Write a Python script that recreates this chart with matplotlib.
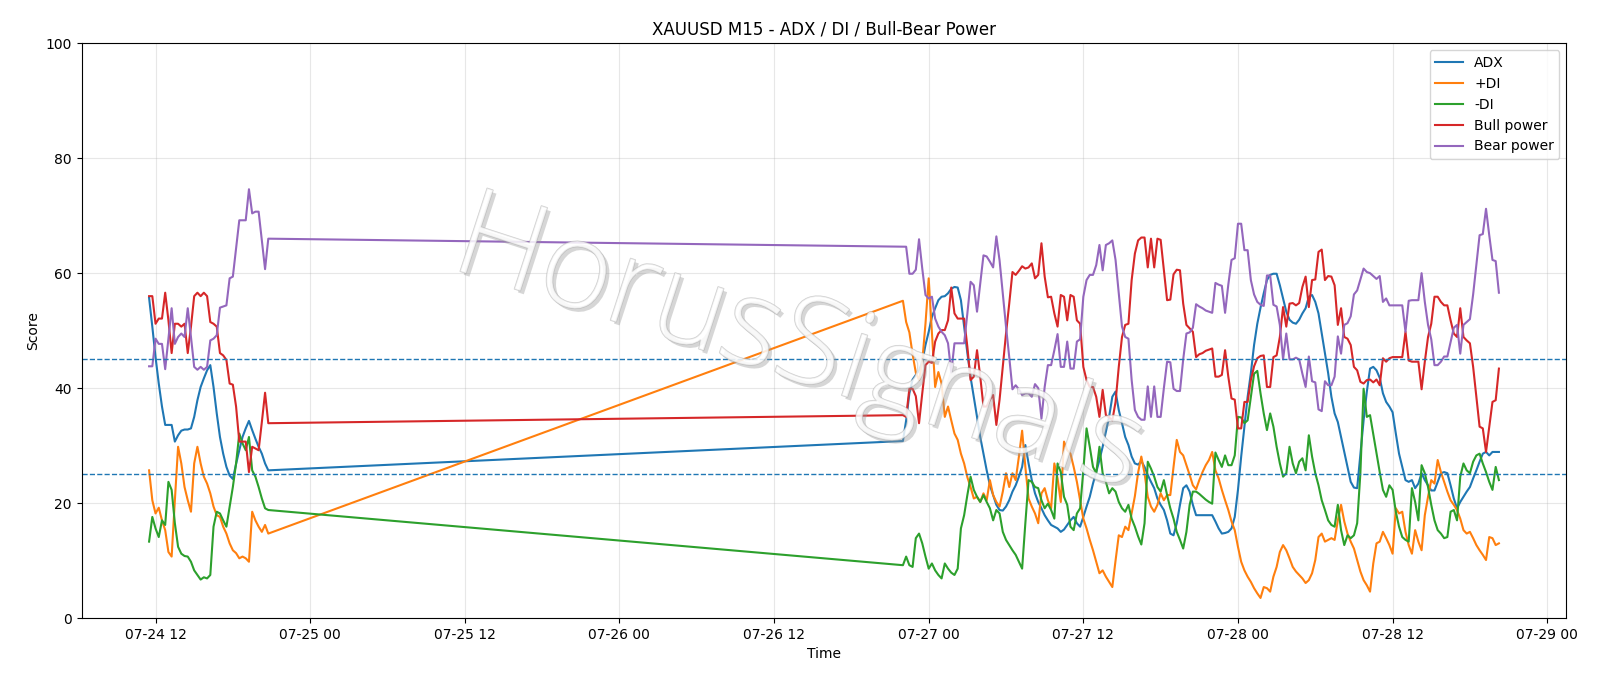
import numpy as np
import pandas as pd
import matplotlib
matplotlib.use("Agg")
import matplotlib.pyplot as plt
import matplotlib.dates as mdates
import matplotlib.patheffects as pe

# --- time index: M15 bars, weekend gap between the two blocks
t1 = pd.date_range("2025-07-24 11:30", periods=38, freq="15min")
t2 = pd.date_range("2025-07-26 22:00", periods=186, freq="15min")
times = t1.append(t2)

# --- values (block 1 = Thu, block 2 = Sun night -> Mon)
adx_1 = [55.7, 50.7, 45.4, 40.8, 36.8, 33.6, 33.6, 33.6, 30.7, 31.8, 32.6, 32.8, 32.8, 33.0, 35.0, 37.9,
         40.2, 41.7, 43.1, 44.0, 40.2, 35.6, 31.5, 28.6, 26.3, 24.8, 24.2, 26.8, 29.2, 31.5, 33.0, 34.3,
         32.7, 31.2, 29.8, 28.6, 26.9, 25.7]
adx_2 = [30.8, 34.4, 39.1, 41.5, 42.3, 43.1, 44.6, 47.5,
         49.8, 52.4, 53.9, 55.3, 55.9, 56.0, 56.5, 57.3, 57.6, 57.5,
         55.3, 50.7, 46.1, 41.9, 38.5, 35.0, 31.5, 28.6, 25.7, 23.1,
         21.4, 19.7, 18.8, 18.7, 19.4, 20.5, 22.0, 23.1, 24.6, 26.3,
         30.1, 26.9, 24.0, 21.7, 20.2, 19.1, 17.9, 17.0, 16.2, 15.9,
         15.6, 15.0, 15.4, 16.2, 17.0, 17.6, 16.5, 15.9, 17.6, 19.4,
         21.1, 23.4, 25.4, 27.5, 29.8, 32.4, 35.0, 38.5, 39.4, 36.2,
         33.9, 31.5, 30.1, 28.1, 26.9, 26.7, 27.3, 26.3, 24.9, 23.7,
         22.6, 20.8, 19.7, 18.8, 17.0, 14.7, 14.4, 16.5, 19.7, 22.6,
         23.1, 22.0, 19.7, 17.9, 17.9, 17.9, 17.9, 17.9, 17.9, 16.8,
         15.6, 14.7, 14.8, 15.0, 15.6, 17.6, 22.3, 28.1, 33.3, 38.5,
         42.6, 47.5, 51.2, 54.0, 56.5, 58.8, 59.7, 59.9, 59.9, 57.9,
         55.6, 53.3, 51.9, 51.4, 51.2, 51.9, 53.0, 53.9, 55.9, 56.2,
         55.0, 53.0, 49.5, 46.1, 42.6, 38.5, 35.6, 34.1, 31.5, 28.9,
         26.3, 23.7, 22.7, 22.6, 28.6, 34.4, 39.4, 43.4, 43.7, 43.1,
         41.8, 39.1, 37.6, 36.8, 35.8, 32.1, 28.6, 26.3, 24.0, 23.7,
         24.0, 22.6, 23.4, 25.2, 24.0, 23.1, 22.2, 22.2, 23.7, 25.2,
         25.4, 25.2, 23.1, 20.8, 19.1, 20.2, 21.1, 22.0, 22.8, 24.3,
         25.7, 27.2, 28.6, 28.9, 28.3, 28.9, 28.9, 28.9]

pdi_1 = [25.7, 20.5, 18.2, 19.2, 17.0, 15.3, 11.5, 10.7, 20.5, 29.8, 26.9, 22.8, 20.5, 18.5, 26.9, 29.8,
         26.9, 24.6, 23.4, 21.7, 19.4, 17.9, 17.6, 15.9, 14.7, 13.0, 11.8, 11.3, 10.4, 10.7, 10.4, 9.8,
         18.5, 17.0, 15.9, 15.0, 16.2, 14.7]
pdi_2 = [55.2, 51.5, 49.7, 45.9, 42.7, 41.4, 44.6, 51.2,
         59.1, 49.5, 40.2, 42.8, 40.8, 35.0, 36.8, 34.4, 32.1, 31.0,
         28.6, 26.9, 24.5, 22.8, 20.8, 21.1, 20.2, 21.7, 20.5, 24.0,
         21.4, 20.2, 19.4, 22.0, 25.2, 22.8, 25.2, 24.0, 28.1, 32.6,
         26.3, 20.8, 19.4, 18.2, 16.5, 21.7, 22.6, 20.5, 19.1, 26.9,
         24.3, 20.2, 30.7, 29.2, 28.6, 26.3, 23.7, 20.5, 17.3, 15.6,
         13.6, 11.8, 9.8, 7.8, 8.3, 7.2, 6.3, 5.4, 10.0, 14.4,
         14.1, 15.9, 15.3, 18.2, 21.2, 25.3, 28.1, 25.2, 21.1, 19.4,
         18.5, 19.7, 21.7, 20.5, 21.4, 21.4, 26.3, 31.0, 28.9, 28.3,
         26.6, 24.9, 23.1, 22.4, 24.0, 25.4, 26.6, 27.5, 28.9, 25.7,
         24.3, 22.3, 20.5, 18.8, 16.8, 15.3, 12.4, 9.8, 8.3, 7.2,
         6.3, 5.2, 4.3, 3.5, 5.4, 5.2, 4.6, 7.2, 8.9, 11.5,
         12.7, 11.8, 10.4, 8.9, 8.1, 7.5, 6.9, 6.1, 6.6, 7.8,
         10.1, 14.1, 14.7, 13.3, 13.6, 13.9, 13.6, 17.0, 19.7, 16.8,
         14.7, 13.3, 12.1, 10.1, 8.1, 6.6, 5.7, 4.6, 9.5, 13.0,
         13.3, 15.0, 13.9, 12.7, 11.2, 19.1, 18.2, 18.5, 15.0, 12.7,
         11.2, 15.3, 13.3, 11.8, 17.9, 21.1, 24.0, 23.4, 27.5, 25.4,
         23.7, 22.0, 20.5, 19.7, 18.8, 17.3, 15.3, 14.7, 15.0, 13.9,
         12.7, 11.8, 11.0, 10.1, 14.1, 13.9, 12.7, 13.0]

mdi_1 = [13.3, 17.6, 15.6, 14.1, 17.0, 16.2, 23.7, 22.3, 16.5, 12.4, 11.2, 10.8, 10.7, 9.8, 8.3, 7.5,
         6.7, 7.1, 6.9, 7.5, 15.9, 18.5, 18.2, 17.0, 15.9, 19.4, 22.8, 26.9, 32.1, 30.4, 29.2, 31.5,
         25.7, 24.6, 22.8, 20.8, 19.1, 18.8]
mdi_2 = [9.2, 10.7, 9.2, 8.9, 13.9, 14.7, 13.0, 10.7,
         8.6, 9.5, 8.3, 7.5, 6.9, 9.5, 8.6, 7.9, 7.5, 8.6,
         15.6, 17.9, 21.4, 24.6, 22.3, 21.1, 20.2, 21.4, 20.2, 19.1,
         17.0, 18.8, 18.2, 15.0, 13.6, 12.7, 11.8, 11.0, 9.8, 8.6,
         16.5, 24.0, 23.7, 22.8, 22.6, 20.5, 19.1, 19.9, 18.8, 17.3,
         26.9, 25.4, 21.1, 19.7, 15.9, 15.3, 18.2, 19.1, 25.7, 33.0,
         29.8, 26.3, 25.2, 29.8, 25.2, 23.7, 21.7, 22.6, 22.0, 20.2,
         19.1, 18.5, 19.7, 17.3, 15.9, 14.2, 12.8, 16.5, 27.2, 26.0,
         24.6, 22.8, 22.0, 24.0, 21.4, 19.1, 17.3, 15.0, 13.6, 12.1,
         15.0, 19.7, 22.0, 22.0, 21.6, 21.1, 20.6, 20.2, 19.9, 28.8,
         27.5, 26.3, 28.3, 26.6, 26.6, 28.3, 35.0, 34.9, 33.9, 34.4,
         38.5, 42.5, 43.0, 39.1, 35.6, 32.7, 35.6, 33.3, 29.8, 26.9,
         24.6, 25.2, 29.8, 26.9, 25.2, 27.2, 27.8, 25.7, 31.8, 28.1,
         25.2, 23.1, 20.5, 18.8, 17.0, 16.2, 15.9, 19.7, 15.3, 12.7,
         14.4, 13.9, 14.4, 16.5, 25.2, 39.9, 35.0, 35.3, 32.0, 28.6,
         25.4, 22.3, 21.1, 23.1, 22.3, 18.5, 15.9, 14.1, 13.6, 13.3,
         22.6, 20.2, 17.0, 26.6, 25.2, 22.8, 19.7, 17.0, 15.3, 14.7,
         13.9, 14.1, 18.5, 18.8, 17.0, 24.6, 26.9, 25.7, 25.2, 27.2,
         28.3, 28.6, 26.9, 25.4, 23.7, 22.3, 26.3, 24.0]

bull_1 = [56.0, 56.0, 51.2, 52.1, 52.1, 56.6, 51.8, 46.1, 51.2, 51.2, 50.7, 51.2, 46.1, 50.7, 56.0, 56.6,
          56.0, 56.6, 56.0, 51.5, 51.2, 50.7, 46.1, 45.7, 44.9, 40.8, 40.6, 36.8, 30.7, 30.7, 30.7, 25.4,
          29.8, 29.5, 29.2, 34.1, 39.2, 33.9]
bull_2 = [35.3, 35.0, 39.9, 39.9, 38.6, 33.9, 39.1, 44.0,
          44.6, 44.4, 48.1, 49.5, 50.1, 50.1, 51.8, 57.5, 53.0, 52.1,
          52.1, 52.1, 47.2, 41.4, 42.0, 46.6, 42.0, 36.8, 36.8, 38.0,
          38.8, 33.6, 38.0, 43.7, 49.5, 54.7, 60.2, 59.7, 60.4, 61.2,
          60.8, 61.0, 61.7, 59.1, 59.7, 65.2, 59.4, 55.8, 55.9, 53.0,
          50.7, 56.2, 55.9, 51.8, 56.2, 55.9, 51.8, 51.2, 43.7, 41.4,
          40.2, 40.2, 38.5, 35.0, 39.7, 35.3, 34.9, 34.4, 37.6, 43.7,
          48.9, 51.0, 51.2, 58.8, 63.4, 65.7, 66.2, 66.2, 61.0, 66.0,
          61.0, 66.0, 65.8, 60.5, 55.3, 55.4, 59.8, 60.6, 60.5, 54.7,
          51.0, 50.4, 49.8, 45.4, 45.9, 46.1, 46.5, 46.7, 46.9, 42.0,
          42.0, 42.3, 46.6, 42.0, 38.2, 38.0, 33.0, 33.0, 37.6, 37.6,
          41.4, 43.8, 45.2, 45.6, 45.7, 40.2, 40.2, 45.4, 45.7, 48.9,
          54.1, 50.7, 54.7, 54.8, 54.4, 54.8, 57.6, 59.4, 54.1, 58.8,
          58.9, 63.7, 64.1, 58.8, 59.5, 59.4, 57.9, 51.0, 53.9, 48.9,
          48.6, 47.5, 43.7, 43.1, 41.1, 40.8, 41.4, 41.5, 41.0, 41.5,
          40.5, 45.2, 44.6, 45.2, 45.4, 45.4, 45.4, 45.4, 49.8, 44.8,
          44.6, 44.6, 44.6, 39.8, 44.6, 48.9, 51.2, 55.9, 55.9, 55.0,
          54.4, 54.4, 51.8, 49.5, 48.9, 53.9, 48.9, 48.3, 47.8, 43.7,
          38.5, 33.3, 33.0, 28.9, 33.3, 37.6, 37.9, 43.4]

bear_1 = [43.8, 43.8, 48.6, 47.7, 47.7, 43.3, 48.6, 53.9, 47.7, 48.9, 49.5, 48.9, 53.9, 48.9, 43.7, 43.2,
          43.7, 43.2, 43.7, 48.3, 48.6, 49.2, 54.0, 54.2, 54.4, 59.1, 59.4, 64.3, 69.2, 69.2, 69.2, 74.6,
          70.4, 70.7, 70.7, 65.7, 60.7, 66.0]
bear_2 = [64.6, 64.6, 59.9, 59.9, 60.6, 65.9, 60.8, 56.2,
          55.6, 55.9, 52.1, 50.7, 49.8, 49.2, 47.8, 42.7, 47.8, 47.8,
          47.8, 47.8, 53.0, 58.5, 57.9, 53.3, 58.2, 63.1, 62.9, 62.0,
          61.0, 66.4, 62.2, 56.5, 50.7, 45.4, 39.8, 40.5, 39.8, 38.8,
          39.1, 39.1, 38.5, 40.7, 40.0, 34.7, 40.2, 44.0, 44.0, 46.6,
          49.4, 43.7, 43.7, 48.1, 43.4, 43.4, 48.1, 48.5, 55.9, 58.8,
          59.7, 59.7, 61.4, 64.9, 60.5, 64.9, 65.2, 65.7, 62.3, 56.5,
          50.7, 48.9, 48.6, 41.4, 36.2, 35.0, 34.5, 34.5, 40.3, 35.0,
          40.3, 35.0, 35.0, 40.0, 44.6, 44.5, 39.9, 39.5, 39.5, 45.0,
          49.5, 49.7, 50.5, 54.6, 54.2, 53.9, 53.5, 53.3, 53.1, 58.3,
          58.0, 57.8, 53.1, 58.0, 62.3, 62.6, 68.6, 68.6, 64.0, 64.0,
          58.8, 56.3, 55.0, 54.5, 54.3, 59.6, 59.6, 54.5, 54.2, 51.0,
          45.0, 49.5, 45.0, 45.0, 45.3, 45.0, 42.5, 40.2, 45.5, 41.2,
          41.0, 36.3, 36.0, 41.2, 40.5, 40.5, 42.0, 49.0, 46.0, 51.0,
          51.3, 52.5, 56.3, 57.0, 58.9, 60.8, 60.2, 60.0, 59.5, 59.0,
          59.5, 55.0, 55.6, 54.4, 54.4, 54.4, 54.4, 54.4, 49.8, 55.2,
          55.3, 55.3, 55.3, 60.0, 55.0, 51.0, 48.5, 44.0, 44.0, 44.6,
          45.5, 45.5, 48.0, 50.5, 51.0, 46.0, 51.0, 51.5, 52.0, 56.3,
          61.5, 66.6, 66.8, 71.2, 66.6, 62.3, 62.1, 56.6]

df = pd.DataFrame({
    "ADX": adx_1 + adx_2,
    "+DI": pdi_1 + pdi_2,
    "-DI": mdi_1 + mdi_2,
    "Bull power": bull_1 + bull_2,
    "Bear power": bear_1 + bear_2,
}, index=times)

levels = [45, 25]

fig = plt.figure(figsize=(16, 6.86), dpi=100)
ax = fig.add_subplot(111)
fig.subplots_adjust(left=0.051, right=0.979, bottom=0.099, top=0.937)

for col in df.columns:
    ax.plot(df.index, df[col], label=col, linewidth=1.5)

for lv in levels:
    ax.axhline(lv, color="C0", linestyle="--", linewidth=1)

ax.set_ylim(0, 100)
ax.set_title("XAUUSD M15 - ADX / DI / Bull-Bear Power", fontsize=12)
ax.set_xlabel("Time")
ax.set_ylabel("Score")
ax.grid(True, alpha=0.3)
ax.xaxis.set_major_locator(mdates.HourLocator(byhour=[0, 12]))
ax.xaxis.set_major_formatter(mdates.DateFormatter("%m-%d %H"))
ax.legend(loc="upper right")

# watermark: thin light letters with grey outline and soft shadow
wm = ax.text(0.483, 0.47, "HorusSignals", transform=ax.transAxes, fontsize=88,
             family=["Open Sans", "Lato", "Roboto", "DejaVu Sans"], fontweight=300,
             rotation=-18, ha="center", va="center", rotation_mode="anchor",
             color="white", alpha=0.6, zorder=5)
wm.set_path_effects([pe.SimplePatchShadow(offset=(2.5, -2.5), shadow_rgbFace="#9a9a9a", alpha=0.4),
                     pe.Stroke(linewidth=1.0, foreground="#b0b0b0"), pe.Normal()])

fig.savefig("out.png", dpi=100)
